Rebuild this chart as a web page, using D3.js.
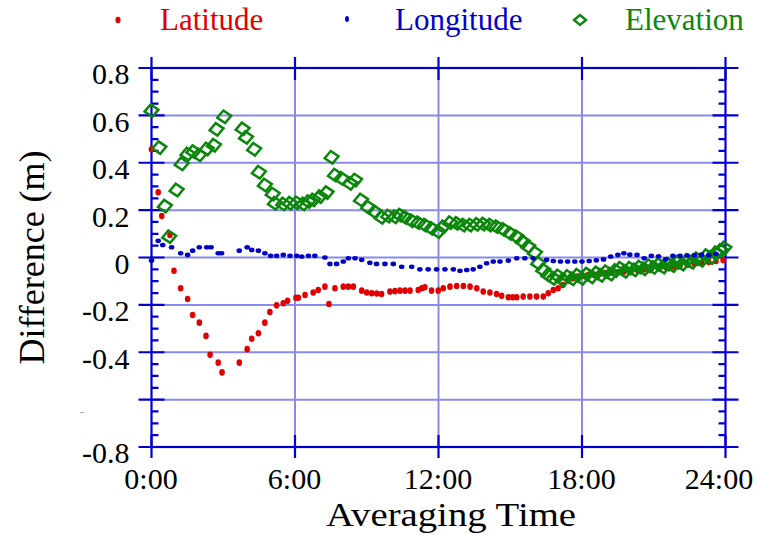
<!DOCTYPE html>
<html><head><meta charset="utf-8">
<script src="https://cdn.jsdelivr.net/npm/d3@7"></script>
<style>body{margin:0;background:#fff}svg{display:block}</style>
</head><body>
<svg id="c" width="757" height="535"></svg>
<script>
// ---- data (hours, metres) ----
const seriesNames = ["Latitude", "Longitude", "Elevation"];
const latitude = [[0.0,0.457],[0.28,0.275],[0.43,0.175],[0.77,0.095],[0.94,-0.056],[1.22,-0.13],[1.51,-0.175],[1.72,-0.243],[2.0,-0.275],[2.28,-0.331],[2.45,-0.411],[2.79,-0.444],[2.95,-0.485],[3.67,-0.444],[4.0,-0.387],[4.19,-0.343],[4.47,-0.32],[4.74,-0.275],[4.95,-0.23],[5.23,-0.202],[5.51,-0.193],[5.69,-0.183],[6.04,-0.17],[6.14,-0.17],[6.42,-0.158],[6.76,-0.148],[6.97,-0.137],[7.25,-0.123],[7.42,-0.196],[7.67,-0.13],[8.02,-0.123],[8.23,-0.123],[8.44,-0.123],[8.79,-0.14],[9.0,-0.148],[9.21,-0.151],[9.42,-0.152],[9.62,-0.154],[9.97,-0.144],[10.18,-0.142],[10.39,-0.14],[10.6,-0.14],[10.81,-0.14],[11.15,-0.137],[11.3,-0.13],[11.43,-0.126],[11.71,-0.14],[11.99,-0.14],[12.2,-0.13],[12.48,-0.123],[12.76,-0.12],[13.04,-0.12],[13.32,-0.123],[13.6,-0.13],[13.87,-0.144],[14.15,-0.148],[14.43,-0.154],[14.64,-0.162],[14.92,-0.168],[15.1,-0.168],[15.27,-0.168],[15.54,-0.165],[15.82,-0.165],[16.1,-0.165],[16.38,-0.165],[16.59,-0.151],[16.8,-0.137],[17.0,-0.13],[17.2,-0.116],[17.42,-0.095],[17.6,-0.088],[17.8,-0.08],[18.0,-0.078],[18.25,-0.074],[18.5,-0.072],[18.75,-0.068],[19.0,-0.066],[19.25,-0.064],[19.5,-0.062],[19.75,-0.06],[20.0,-0.056],[20.3,-0.052],[20.6,-0.05],[20.9,-0.047],[21.2,-0.044],[21.5,-0.041],[21.8,-0.038],[22.1,-0.034],[22.4,-0.03],[22.7,-0.027],[23.0,-0.022],[23.3,-0.019],[23.6,-0.015],[23.9,-0.011]];
const longitude = [[0.0,-0.013],[0.28,0.071],[0.47,0.053],[0.84,0.043],[1.22,0.018],[1.51,0.011],[1.72,0.029],[2.0,0.043],[2.31,0.043],[2.49,0.043],[2.79,0.018],[2.93,0.018],[3.67,0.029],[4.0,0.043],[4.19,0.032],[4.47,0.029],[4.74,0.018],[4.98,0.007],[5.23,0.007],[5.51,0.011],[5.79,0.007],[6.07,0.007],[6.28,0.004],[6.56,0.007],[6.83,0.007],[7.25,0.0],[7.46,-0.027],[7.74,-0.027],[8.02,-0.017],[8.23,-0.003],[8.51,-0.003],[8.79,-0.01],[9.13,-0.022],[9.41,-0.027],[9.76,-0.027],[10.11,-0.027],[10.46,-0.039],[10.88,-0.039],[11.22,-0.05],[11.57,-0.05],[11.92,-0.05],[12.27,-0.05],[12.62,-0.05],[12.9,-0.056],[13.18,-0.053],[13.45,-0.05],[13.73,-0.039],[14.01,-0.024],[14.29,-0.017],[14.57,-0.017],[14.92,-0.013],[15.27,-0.003],[15.61,-0.003],[15.96,-0.003],[16.52,-0.01],[16.8,-0.015],[17.1,-0.017],[17.4,-0.017],[17.7,-0.017],[18.0,-0.017],[18.3,-0.015],[18.6,-0.012],[18.9,-0.008],[19.2,0.004],[19.5,0.011],[19.75,0.018],[20.0,0.012],[20.3,0.011],[20.6,-0.003],[20.9,0.007],[21.2,0.005],[21.5,-0.008],[21.8,0.007],[22.1,0.007],[22.4,0.008],[22.7,0.01],[23.0,0.012],[23.3,0.01],[23.6,0.015]];
const elevation = [[0.0,0.62],[0.33,0.464],[0.56,0.217],[0.74,0.088],[1.05,0.285],[1.26,0.395],[1.51,0.437],[1.75,0.447],[2.0,0.433],[2.31,0.458],[2.61,0.474],[2.72,0.541],[3.04,0.594],[3.81,0.543],[3.95,0.507],[4.29,0.457],[4.49,0.36],[4.74,0.306],[5.07,0.268],[5.16,0.229],[5.51,0.226],[5.79,0.229],[6.07,0.231],[6.35,0.226],[6.56,0.236],[6.76,0.243],[7.04,0.257],[7.32,0.274],[7.53,0.423],[7.67,0.348],[7.95,0.334],[8.3,0.313],[8.51,0.327],[8.76,0.243],[9.06,0.212],[9.34,0.193],[9.62,0.17],[9.9,0.175],[10.18,0.172],[10.39,0.179],[10.6,0.17],[10.88,0.155],[11.15,0.147],[11.43,0.137],[11.71,0.123],[11.99,0.109],[12.2,0.13],[12.48,0.147],[12.76,0.144],[13.04,0.137],[13.32,0.137],[13.6,0.14],[13.87,0.141],[14.15,0.137],[14.43,0.13],[14.71,0.119],[14.99,0.102],[15.27,0.088],[15.52,0.067],[15.75,0.046],[16.03,0.02],[16.17,-0.024],[16.38,-0.053],[16.59,-0.074],[16.8,-0.088],[17.0,-0.078],[17.2,-0.095],[17.4,-0.08],[17.6,-0.09],[17.8,-0.075],[18.0,-0.088],[18.2,-0.07],[18.4,-0.082],[18.6,-0.065],[18.8,-0.075],[19.0,-0.06],[19.2,-0.07],[19.4,-0.055],[19.6,-0.045],[19.8,-0.058],[20.0,-0.045],[20.2,-0.052],[20.4,-0.04],[20.6,-0.048],[20.8,-0.035],[21.0,-0.042],[21.2,-0.03],[21.4,-0.04],[21.6,-0.028],[21.8,-0.034],[22.0,-0.02],[22.2,-0.028],[22.4,-0.012],[22.6,-0.02],[22.8,-0.005],[23.0,-0.012],[23.2,0.008],[23.4,0.0],[23.6,0.02],[23.8,0.03],[23.95,0.04]];
const xTicks = [0, 6, 12, 18, 24];
const xTickLabels = ["0:00", "6:00", "12:00", "18:00", "24:00"];
const yTicks = [-0.8, -0.6, -0.4, -0.2, 0, 0.2, 0.4, 0.6, 0.8];
const yTickLabels = ["-0.8", "", "-0.4", "-0.2", "0", "0.2", "0.4", "0.6", "0.8"];
const xTitle = "Averaging Time";
const yTitle = "Difference (m)";

// ---- layout ----
const svg = d3.select("#c");
const x0 = 151.5, x1 = 725.5, yTop = 68, yBot = 447;
const x = d3.scaleLinear().domain([0, 24]).range([x0, x1]);
const y = d3.scaleLinear().domain([-0.8, 0.8]).range([yBot, yTop]);
const AX = "#0000d0", GRID = "#8a8aec";
const RED = "#e00000", BLUE = "#0000c8", GREEN = "#0a870a";
const FONT = "'Liberation Serif','Times New Roman',serif";

// grid
svg.append("g").selectAll("line").data(yTicks.filter(v => Math.abs(v) < 0.8)).join("line")
  .attr("x1", x0).attr("x2", x1).attr("y1", d => y(d)).attr("y2", d => y(d))
  .attr("stroke", GRID).attr("stroke-width", 2);
svg.append("g").selectAll("line").data(xTicks.filter(v => v > 0 && v < 24)).join("line")
  .attr("y1", yTop).attr("y2", yBot).attr("x1", d => x(d)).attr("x2", d => x(d))
  .attr("stroke", GRID).attr("stroke-width", 2);

// frame
const fr = svg.append("g").attr("stroke", AX).attr("stroke-width", 2.2).attr("fill", "none");
fr.append("rect").attr("x", x0).attr("y", yTop).attr("width", x1 - x0).attr("height", yBot - yTop);

// y major ticks (crossing both side axes)
fr.selectAll(".ymaj").data(yTicks).join("path")
  .attr("d", d => `M${x0-13},${y(d)}H${x0+13}M${x1-13},${y(d)}H${x1+13}`);
// y minor ticks
const minors = d3.range(-0.8, 0.8001, 0.05).filter(v => Math.abs(Math.round(v*100) % 20) !== 0);
fr.selectAll(".ymin").data(minors).join("path")
  .attr("d", d => `M${x0},${y(d)}H${x0+7}M${x1-7},${y(d)}H${x1}`);
// x major ticks
fr.selectAll(".xmaj").data(xTicks).join("path")
  .attr("d", d => `M${x(d)},${yTop-11}V${yTop+12}M${x(d)},${yBot-12}V${yBot+11}`);

// axis labels through d3 axes
const yAxis = d3.axisLeft(y).tickValues(yTicks).tickFormat((d, i) => yTickLabels[i]).tickSize(0).tickPadding(22);
const gy = svg.append("g").attr("transform", `translate(${x0},0)`).call(yAxis);
gy.select(".domain").remove();
gy.selectAll("text").attr("font-family", FONT).attr("font-size", 30).attr("fill", "#000").attr("dy", "0.53em");

const xAxis = d3.axisBottom(x).tickValues(xTicks).tickFormat((d, i) => xTickLabels[i]).tickSize(0).tickPadding(21);
const gx = svg.append("g").attr("transform", `translate(0,${yBot})`).call(xAxis);
gx.select(".domain").remove();
gx.selectAll("text").attr("font-family", FONT).attr("font-size", 30).attr("fill", "#000")
  .attr("dx", d => d === 24 ? -7 : -1);

// small grey mark left of the -0.6 tick
svg.append("line").attr("x1", 80).attr("x2", 84).attr("y1", y(-0.6) + 13).attr("y2", y(-0.6) + 13)
  .attr("stroke", "#aaa").attr("stroke-width", 1);

// titles
svg.append("text").attr("x", 451).attr("y", 526).attr("text-anchor", "middle")
  .attr("font-family", FONT).attr("font-size", 34).attr("fill", "#000")
  .attr("textLength", 250).attr("lengthAdjust", "spacingAndGlyphs").text(xTitle);
svg.append("text").attr("transform", `translate(44,${(yTop + yBot) / 2}) rotate(-90)`).attr("text-anchor", "middle")
  .attr("font-family", FONT).attr("font-size", 36).attr("fill", "#000").text(yTitle);

// markers
const diamond = "M0,-6.3L7,0L0,6.3L-7,0Z";
const plot = svg.append("g");
plot.append("g").selectAll("ellipse").data(latitude).join("ellipse")
  .attr("cx", d => x(d[0])).attr("cy", d => y(d[1])).attr("rx", 2.8).attr("ry", 3.3).attr("fill", RED);
plot.append("g").selectAll("path").data(elevation).join("path")
  .attr("transform", d => `translate(${x(d[0])},${y(d[1])}) rotate(-8)`)
  .attr("d", diamond).attr("fill", "none").attr("stroke", GREEN).attr("stroke-width", 2.5);
plot.append("g").selectAll("ellipse").data(longitude).join("ellipse")
  .attr("cx", d => x(d[0])).attr("cy", d => y(d[1])).attr("rx", 2.8).attr("ry", 2.3).attr("fill", BLUE);

// legend
const lg = svg.append("g").attr("font-family", FONT).attr("font-size", 31);
lg.append("ellipse").attr("cx", 118).attr("cy", 20).attr("rx", 2.6).attr("ry", 3.2).attr("fill", RED);
lg.append("text").attr("x", 160).attr("y", 30).attr("fill", RED).text(seriesNames[0]);
lg.append("ellipse").attr("cx", 347).attr("cy", 19).attr("rx", 2).attr("ry", 3).attr("fill", BLUE);
lg.append("text").attr("x", 395).attr("y", 30).attr("fill", BLUE).text(seriesNames[1]);
lg.append("path").attr("transform", "translate(580,20)").attr("d", "M0,-5L6,0L0,5L-6,0Z")
  .attr("fill", "none").attr("stroke", GREEN).attr("stroke-width", 2.4);
lg.append("text").attr("x", 625).attr("y", 30).attr("fill", GREEN).text(seriesNames[2]);
</script>
</body></html>
